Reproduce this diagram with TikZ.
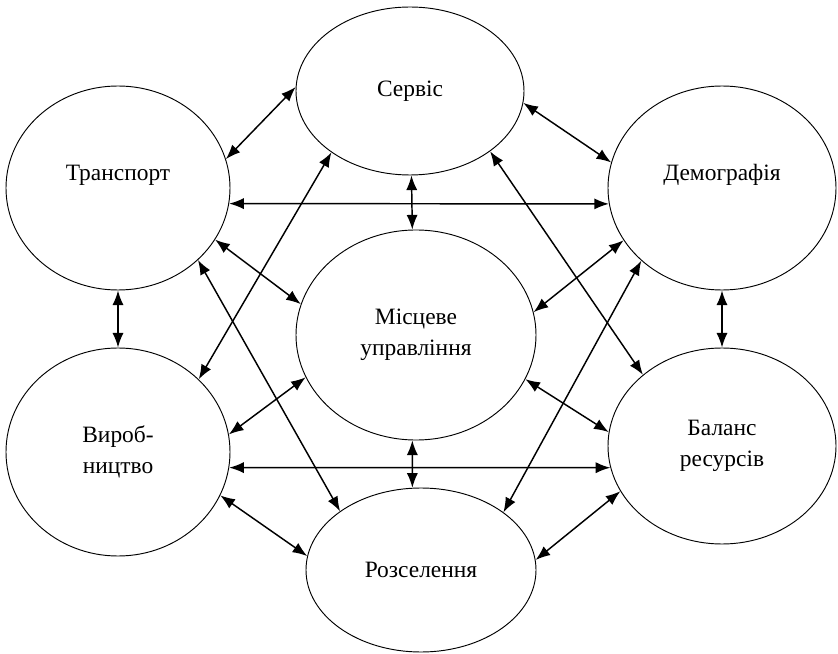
\documentclass[tikz,border=0pt]{standalone}
\usepackage{fontspec}
\setmainfont{Liberation Serif}
\usetikzlibrary{shapes,arrows.meta,positioning}

\begin{document}
\begin{tikzpicture}[
    x=0.03cm, y=-0.03cm,
    blob/.style={ellipse, draw, line width=0.8pt, inner sep=0pt, align=center,
                 font=\fontsize{20}{26}\selectfont},
    raised/.style={text height=14pt, text depth=26pt},
    arrow/.style={{Latex[length=12.5pt,width=9.5pt]}-{Latex[length=12.5pt,width=9.5pt]},
                  line width=1.25pt}
]
\useasboundingbox (0,0) rectangle (838,654);

%% ── Nodes ───────────────────────────────────────────────────────
\node[blob, raised, minimum width=6.72cm, minimum height=6.12cm]
                             (transport) at (118,188) {Транспорт};
\node[blob, minimum width=6.84cm, minimum height=5.04cm]
                             (servis)    at (410,91)  {Сервіс};
\node[blob, raised, minimum width=6.84cm, minimum height=6.12cm]
                             (demo)      at (722,188) {Демографія};
\node[blob, minimum width=7.2cm, minimum height=6.3cm]
                             (misceve)   at (416,335) {Місцеве\\управління};
\node[blob, minimum width=6.72cm, minimum height=6.24cm]
                             (vyrob)     at (118,452) {Вироб-\\ництво};
\node[blob, minimum width=6.84cm, minimum height=5.88cm]
                             (balans)    at (722,446) {Баланс\\ресурсів};
\node[blob, minimum width=6.9cm, minimum height=4.92cm]
                             (rozsel)    at (421,570) {Розселення};

%% ── Links of the upper row ───────────────────────────────────────
\draw[arrow] (transport.15)   -- (servis.178);
\draw[arrow] (servis.-6)      -- (demo.167);
\draw[arrow] (transport.-8.8) -- (demo.188.6);
\draw[arrow] (servis.-89)     -- (misceve.92);

%% ── Crossing links ───────────────────────────────────────────────
\draw[arrow] (transport.-28.7) -- (misceve.165);
\draw[arrow] (vyrob.42)        -- (servis.218.8);
\draw[arrow] (transport.-42.4) -- (rozsel.144.4);
\draw[arrow] (servis.-37.4)    -- (balans.138.8);
\draw[arrow] (misceve.11.6)    -- (demo.208.6);
\draw[arrow] (rozsel.35.5)     -- (demo.222.8);

%% ── Side columns ─────────────────────────────────────────────────
\draw[arrow] (transport.south) -- (vyrob.north);
\draw[arrow] (demo.south)      -- (balans.north);

%% ── Links of the lower row ───────────────────────────────────────
\draw[arrow] (vyrob.9.4)    -- (misceve.201);
\draw[arrow] (vyrob.-8.2)   -- (balans.191.2);
\draw[arrow] (vyrob.-23.8)  -- (rozsel.173.5);
\draw[arrow] (misceve.-92)  -- (rozsel.96);
\draw[arrow] (misceve.-22.8) -- (balans.173.5);
\draw[arrow] (rozsel.5)     -- (balans.204.5);

\end{tikzpicture}
\end{document}
